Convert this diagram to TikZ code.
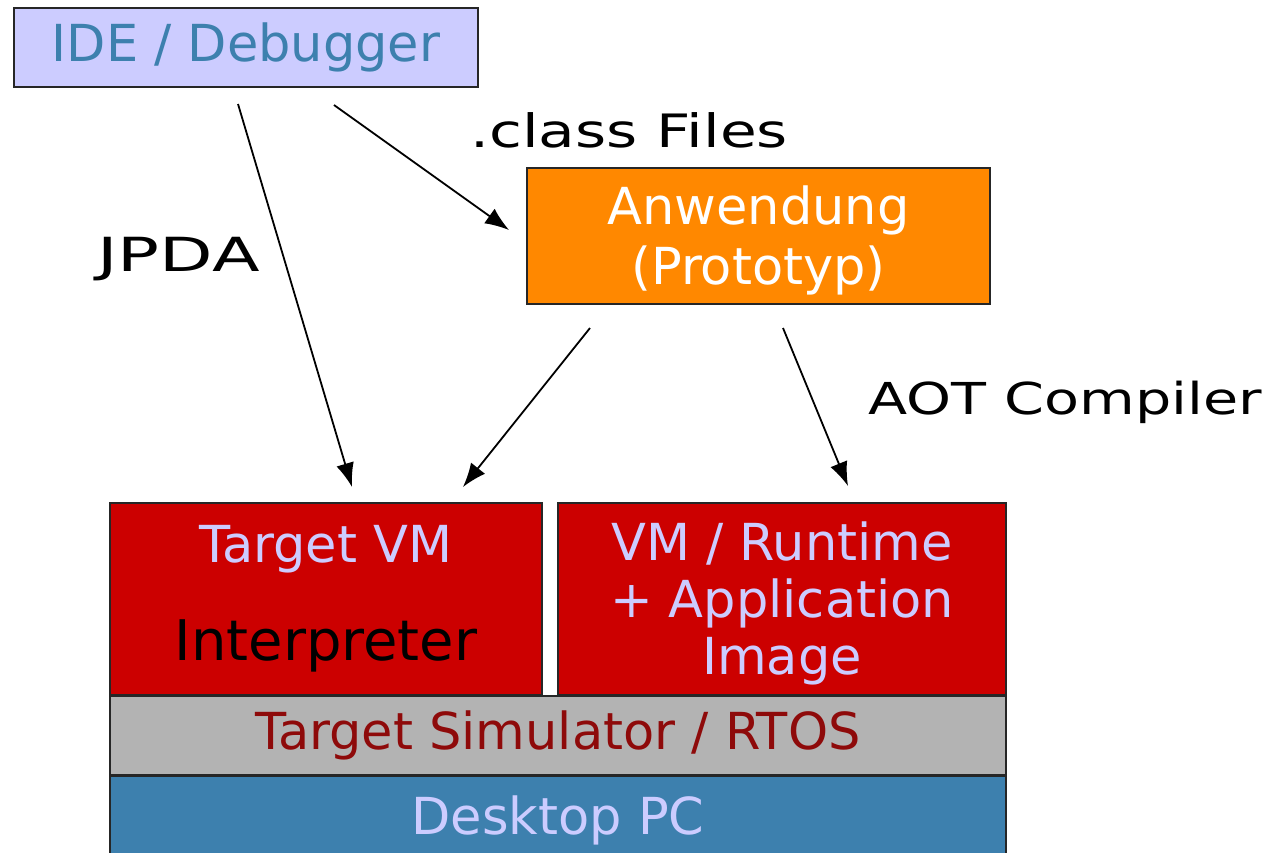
\documentclass[tikz,border=0pt]{standalone}
\usepackage{fontspec}
\setmainfont{DejaVu Sans}
\newfontfamily\widefont[FakeStretch=1.3]{DejaVu Sans}
\newfontfamily\widerfont[FakeStretch=1.48]{DejaVu Sans}
\usetikzlibrary{arrows.meta}
\definecolor{idefill}{HTML}{CCCCFF}
\definecolor{steel}{HTML}{3D80AE}
\definecolor{appfill}{HTML}{FF8800}
\definecolor{vmred}{HTML}{CC0000}
\definecolor{simgray}{HTML}{B3B3B3}
\definecolor{simtext}{HTML}{8E0A0A}
\definecolor{lav}{HTML}{CCCCFF}
\begin{document}
\begin{tikzpicture}[x=1pt,y=-1pt,
  box/.style={draw=black!85, line width=2pt, inner sep=0pt, align=center,
    font=\fontsize{51}{57}\selectfont},
  lbl/.style={inner sep=0pt, anchor=base west,
    font=\widefont\fontsize{46}{54}\selectfont},
  arr/.style={line width=1.8pt, -{Latex[length=24pt,width=18pt]}}]
\useasboundingbox (0,0) rectangle (1274,852);

% top row: tool and application
\node[box, fill=idefill, text=steel, minimum width=464pt, minimum height=79pt]
  (ide) at (246,47.5) {IDE / Debugger};
\node[box, fill=appfill, text=white, minimum width=463pt, minimum height=136pt,
  font=\fontsize{51}{60}\selectfont]
  (app) at (758.5,236) {\rule{0pt}{47pt}Anwendung\\(Prototyp)};

% target stack
\node[box, fill=vmred, text=lav, minimum width=432pt, minimum height=192pt]
  (tvm) at (326,599) {Target VM\\[41pt]{\color{black}\fontsize{56}{60}\selectfont Interpreter}};
\node[box, fill=vmred, text=lav, minimum width=448pt, minimum height=192pt]
  (rt) at (782,599) {\rule{0pt}{47pt}VM / Runtime\\+ Application\\Image};
\node[box, fill=simgray, text=simtext, minimum width=896pt, minimum height=79pt]
  (sim) at (558,735.5) {Target Simulator / RTOS};
\node[box, fill=steel, text=lav, minimum width=896pt, minimum height=88pt]
  (pc) at (558,820) {Desktop PC};

% connector labels
\node[lbl] (cls) at (470,147) {.class Files};
\node[lbl, font=\widerfont\fontsize{47}{54}\selectfont] (jpda) at (97,271) {JPDA};
\node[lbl, font=\widefont\fontsize{44}{54}\selectfont] (aot) at (868,414) {AOT Compiler};

% connectors
\draw[arr] ([xshift=-8pt,yshift=-16pt]ide.south) -- ([xshift=26pt,yshift=15pt]tvm.north);
\draw[arr] ([xshift=88pt,yshift=-17pt]ide.south) -- ([xshift=-17pt,yshift=6pt]app.west);
\draw[arr] ([xshift=-168.5pt,yshift=-23pt]app.south) -- ([xshift=137pt,yshift=15pt]tvm.north);
\draw[arr] ([xshift=24.5pt,yshift=-23pt]app.south) -- ([xshift=66pt,yshift=16pt]rt.north);
\end{tikzpicture}
\end{document}
